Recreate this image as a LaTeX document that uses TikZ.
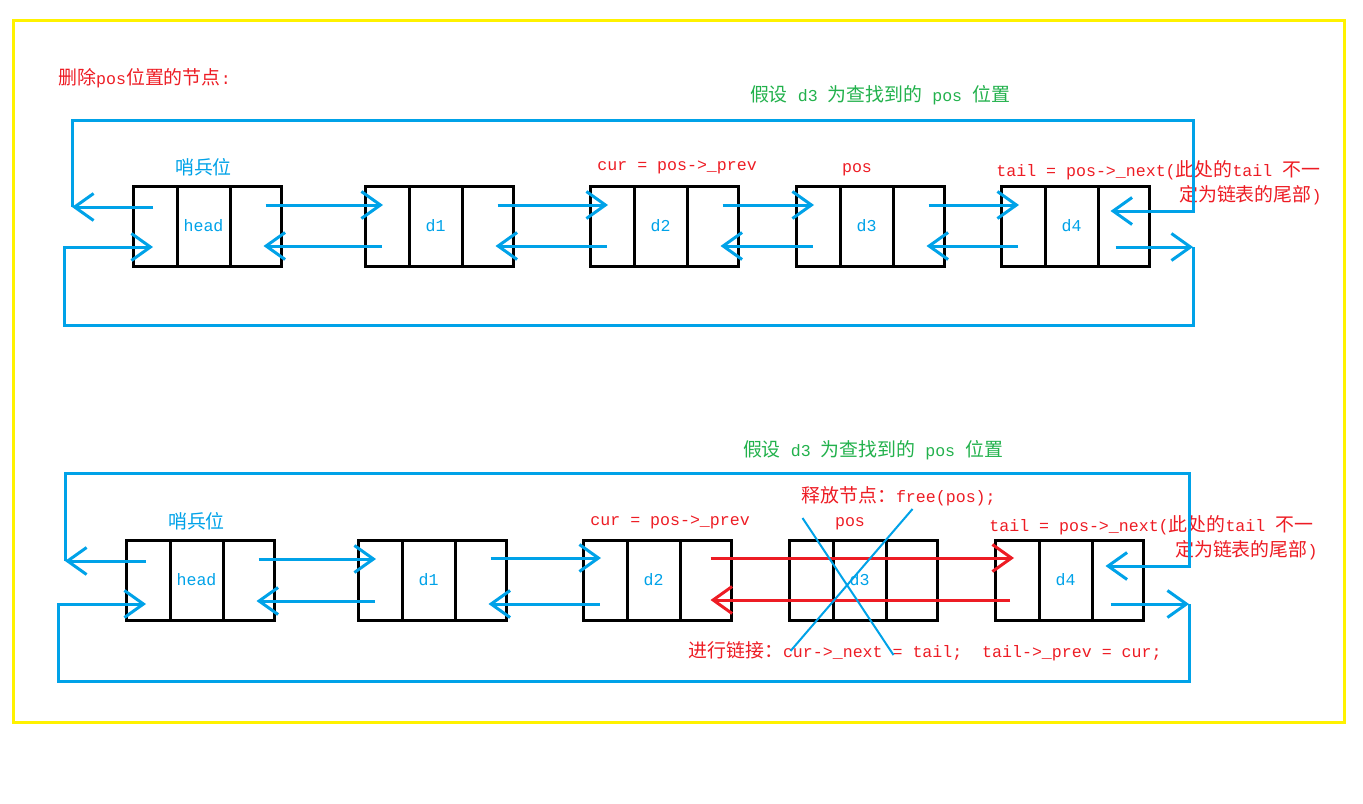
\documentclass[tikz,border=0pt]{standalone}
\usepackage{fontspec}
\setmainfont{Liberation Mono}
\newfontfamily\cjk[Scale=1.14]{Noto Sans CJK SC}
\usetikzlibrary{arrows.meta,calc,positioning}
\definecolor{Paint}{RGB}{0,162,232}
\definecolor{Mark}{RGB}{237,28,36}
\definecolor{Hint}{RGB}{34,177,76}
\definecolor{Frame}{RGB}{255,242,0}

\begin{document}
\begin{tikzpicture}[x=0.5pt,y=-0.5pt,
    every node/.style={font=\fontsize{8.3pt}{10pt}\selectfont},
    cell/.style={draw,line width=1.5pt,minimum height=40pt,inner sep=0pt,outer sep=0pt,text=Paint},
    lcell/.style={cell,minimum width=22pt},
    dcell/.style={cell,minimum width=26.5pt},
    rcell/.style={cell,minimum width=25.5pt},
    link/.style={draw=Paint,line width=1.5pt,-{Straight Barb[length=9.5pt,width=13.5pt]}},
    wire/.style={draw=Paint,line width=1.5pt},
    relink/.style={link,draw=Mark},
    note/.style={text=Mark,inner sep=0pt},
    hint/.style={text=Hint,inner sep=0pt},
    tag/.style={text=Paint,inner sep=0pt}]
  \useasboundingbox (0,0) rectangle (1363,803);
  \draw[Frame,line width=1.5pt] (13,20) rectangle (1344,722);

  % before: d3 still in the list
  \node[note,anchor=west] (title) at (58,78) {{\cjk 删除}pos{\cjk 位置的节点}:};
  \node[hint] (find) at (880,95) {{\cjk 假设} d3 {\cjk 为查找到的} pos {\cjk 位置}};

  \node[dcell] (head) at (203.5,226) {head};
  \node[lcell,left=0pt of head] (headL) {};
  \node[rcell,right=0pt of head] (headR) {};
  \node[dcell] (d1) at (435.5,226) {d1};
  \node[lcell,left=0pt of d1] (d1L) {};
  \node[rcell,right=0pt of d1] (d1R) {};
  \node[dcell] (d2) at (660.5,226) {d2};
  \node[lcell,left=0pt of d2] (d2L) {};
  \node[rcell,right=0pt of d2] (d2R) {};
  \node[dcell] (d3) at (866.5,226) {d3};
  \node[lcell,left=0pt of d3] (d3L) {};
  \node[rcell,right=0pt of d3] (d3R) {};
  \node[dcell] (d4) at (1071.5,226) {d4};
  \node[lcell,left=0pt of d4] (d4L) {};
  \node[rcell,right=0pt of d4] (d4R) {};

  \node[tag,above=5pt of head] (guard) {\cjk 哨兵位};
  \node[note,anchor=west] (cur) at (597,167) {cur = pos->\_prev};
  \node[note] (pos) at (857,170) {pos};
  \node[note,anchor=west] (tail) at (996,170) {tail = pos->\_next({\cjk 此处的}tail {\cjk 不一}};
  \node[note,anchor=east] (tailb) at (1322,195) {{\cjk 定为链表的尾部})};

  \draw[link] ($(headR.center)+(10,-21)$) -- ($(d1L.center)+(-4,-21)$);
  \draw[link] ($(d1L.center)+(-5,20)$) -- ($(headR.center)+(8,20)$);
  \draw[link] ($(d1R.center)+(10,-21)$) -- ($(d2L.center)+(-4,-21)$);
  \draw[link] ($(d2L.center)+(-5,20)$) -- ($(d1R.center)+(8,20)$);
  \draw[link] ($(d2R.center)+(10,-21)$) -- ($(d3L.center)+(-4,-21)$);
  \draw[link] ($(d3L.center)+(-5,20)$) -- ($(d2R.center)+(8,20)$);
  \draw[link] ($(d3R.center)+(10,-21)$) -- ($(d4L.center)+(-4,-21)$);
  \draw[link] ($(d4L.center)+(-5,20)$) -- ($(d3R.center)+(8,20)$);

  \coordinate (topNW) at (72,120);
  \coordinate (topNE) at (1193,120);
  \coordinate (topSW) at (64,325);
  \coordinate (topSE) at (1193,325);
  \draw[link] ($(headL.center)+(-2,-19)$) coordinate (hp) -- (hp -| topNW);
  \draw[link] (hp -| topNW) -- (topNW) -- (topNE) |- ($(d4R.center)+(-13,-15)$);
  \draw[link] ($(d4R.center)+(-8,21)$) coordinate (tn) -- (tn -| topSE);
  \draw[link] (tn -| topSE) -- (topSE) -- (topSW) |- ($(headL.center)+(-2,21)$);

  % after: d3 unlinked and freed
  \node[hint] (findb) at (873,450) {{\cjk 假设} d3 {\cjk 为查找到的} pos {\cjk 位置}};

  \node[dcell] (bhead) at (196.5,580) {head};
  \node[lcell,left=0pt of bhead] (bheadL) {};
  \node[rcell,right=0pt of bhead] (bheadR) {};
  \node[dcell] (bd1) at (428.5,580) {d1};
  \node[lcell,left=0pt of bd1] (bd1L) {};
  \node[rcell,right=0pt of bd1] (bd1R) {};
  \node[dcell] (bd2) at (653.5,580) {d2};
  \node[lcell,left=0pt of bd2] (bd2L) {};
  \node[rcell,right=0pt of bd2] (bd2R) {};
  \node[dcell] (bd3) at (859.5,580) {d3};
  \node[lcell,left=0pt of bd3] (bd3L) {};
  \node[rcell,right=0pt of bd3] (bd3R) {};
  \node[dcell] (bd4) at (1065.5,580) {d4};
  \node[lcell,left=0pt of bd4] (bd4L) {};
  \node[rcell,right=0pt of bd4] (bd4R) {};

  \node[tag,above=5pt of bhead] (bguard) {\cjk 哨兵位};
  \node[note,anchor=west] (bcur) at (590,522) {cur = pos->\_prev};
  \node[note] (bpos) at (850,524) {pos};
  \node[note,anchor=west] (free) at (801,496) {{\cjk 释放节点：}free(pos);};
  \node[note,anchor=west] (btail) at (989,525) {tail = pos->\_next({\cjk 此处的}tail {\cjk 不一}};
  \node[note,anchor=east] (btailb) at (1318,550) {{\cjk 定为链表的尾部})};
  \node[note,anchor=west] (relink) at (688,651) {{\cjk 进行链接：}cur->\_next = tail;~ tail->\_prev = cur;};

  \draw[link] ($(bheadR.center)+(10,-21)$) -- ($(bd1L.center)+(-4,-21)$);
  \draw[link] ($(bd1L.center)+(-5,21)$) -- ($(bheadR.center)+(8,21)$);
  \draw[link] ($(bd1R.center)+(10,-22)$) -- ($(bd2L.center)+(-4,-22)$);
  \draw[link] ($(bd2L.center)+(-5,24)$) -- ($(bd1R.center)+(8,24)$);
  \draw[relink] ($(bd2R.center)+(5,-22)$) -- ($(bd4L.center)+(-3,-22)$);
  \draw[relink] ($(bd4L.center)+(-7,20)$) -- ($(bd2R.center)+(5,20)$);

  \coordinate (botNW) at (65,473);
  \coordinate (botNE) at (1189,473);
  \coordinate (botSW) at (58,681);
  \coordinate (botSE) at (1189,681);
  \draw[link] ($(bheadL.center)+(-2,-19)$) coordinate (bp) -- (bp -| botNW);
  \draw[link] (bp -| botNW) -- (botNW) -- (botNE) |- ($(bd4R.center)+(-12,-14)$);
  \draw[link] ($(bd4R.center)+(-7,24)$) coordinate (bn) -- (bn -| botSE);
  \draw[link] (bn -| botSE) -- (botSE) -- (botSW) |- ($(bheadL.center)+(-2,24)$);

  \draw[Paint,line width=1pt] ($(bd3.center)+(-57,-62)$) -- ($(bd3.center)+(34,75)$);
  \draw[Paint,line width=1pt] ($(bd3.center)+(53,-71)$) -- ($(bd3.center)+(-69,71)$);
\end{tikzpicture}
\end{document}
